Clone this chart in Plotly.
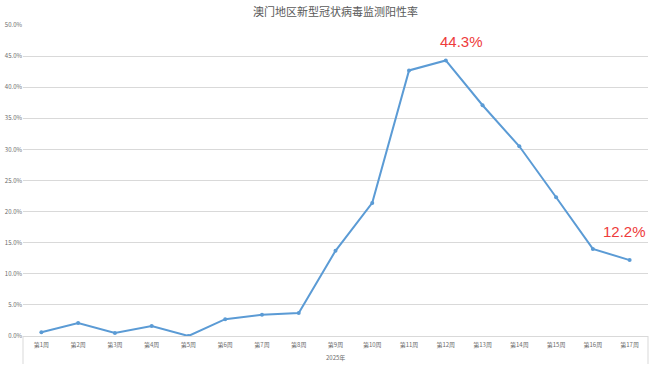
import plotly.graph_objects as go

weeks = [f"第{i}周" for i in range(1, 18)]
positivity = [0.6, 2.1, 0.5, 1.6, 0.0, 2.7, 3.4, 3.7, 13.7, 21.4, 42.7, 44.3, 37.1, 30.5, 22.3, 14.0, 12.2]
y_ticks = [0, 5, 10, 15, 20, 25, 30, 35, 40, 45, 50]
y_labels = [f"{v:.1f}%" for v in y_ticks]
title = "澳门地区新型冠状病毒监测阳性率"
year_label = "2025年"
font_cjk = "Noto Sans CJK SC"

fig = go.Figure()
fig.add_trace(go.Scatter(
    x=weeks, y=positivity, mode="lines+markers",
    line=dict(color="#5b9bd5", width=2),
    marker=dict(color="#5b9bd5", size=4),
    hoverinfo="skip",
))

fig.update_layout(
    width=654, height=366,
    margin=dict(l=23, r=6, t=25, b=30, autoexpand=False),
    paper_bgcolor="white", plot_bgcolor="white",
    showlegend=False,
    font=dict(family=font_cjk, color="#595959", size=6),
    title=dict(text=title, x=0.5, xanchor="center", xref="paper", y=1 - 12 / 366, yanchor="middle",
               font=dict(size=11, color="#595959", family=font_cjk), automargin=False),
    xaxis=dict(type="category", showgrid=False, showline=True, linecolor="#d9d9d9",
               linewidth=1, ticks="", tickfont=dict(size=6, color="#6b6b6b"),
               range=[-0.5, 16.5], fixedrange=True, automargin=False, ticklabelstandoff=3),
    yaxis=dict(range=[0, 50], tickvals=y_ticks, ticktext=y_labels, showgrid=True,
               gridcolor="#d9d9d9", gridwidth=1, zeroline=False, showline=False,
               tickfont=dict(size=6, color="#6b6b6b"), ticks="", fixedrange=True,
               automargin=False),
)

# category group separators
for xp in [0, 1]:
    fig.add_shape(type="line", xref="paper", yref="paper", x0=xp, x1=xp, y0=0, y1=-28 / 311,
                  line=dict(color="#d9d9d9", width=1))

fig.add_annotation(text=year_label, xref="paper", yref="paper", x=0.5, y=-21 / 311,
                   showarrow=False, font=dict(size=6, color="#6b6b6b", family=font_cjk),
                   yanchor="middle")

fig.add_annotation(text="44.3%", x=weeks[11], y=positivity[11], xshift=16, yshift=19,
                   showarrow=False, font=dict(size=15, color="#ee3b3b", family="Liberation Sans"),
                   yanchor="middle")
fig.add_annotation(text="12.2%", x=weeks[16], y=positivity[16], xshift=-5, yshift=29,
                   showarrow=False, font=dict(size=15, color="#ee3b3b", family="Liberation Sans"),
                   yanchor="middle")

fig.write_html("out.html", config={"displayModeBar": False},
               post_script="document.body.style.margin='0';document.body.style.overflow='hidden';")
